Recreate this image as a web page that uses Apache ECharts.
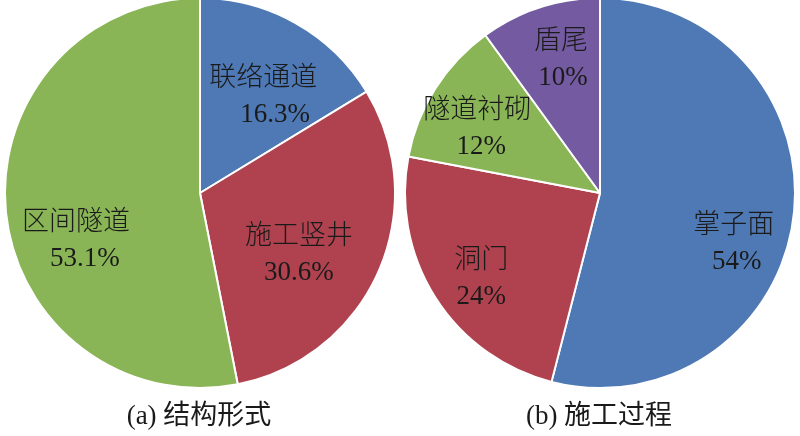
<!DOCTYPE html>
<html>
<head>
<meta charset="utf-8">
<script src="https://cdn.jsdelivr.net/npm/echarts@6/dist/echarts.min.js"></script>
<style>
html,body{margin:0;padding:0;background:#fff;}
#chart{width:800px;height:436px;}
</style>
</head>
<body>
<div id="chart"></div>
<script>
// Data
const categoriesA = ['联络通道', '施工竖井', '区间隧道'];
const valuesA = [16.3, 30.6, 53.1];
const categoriesB = ['掌子面', '洞门', '隧道衬砌', '盾尾'];
const valuesB = [54, 24, 12, 10];
const captionA = '(a) 结构形式';
const captionB = '(b) 施工过程';

// Styles
const colorsA = ['#4E79B5', '#B0424F', '#8AB556'];
const colorsB = ['#4E79B5', '#B0424F', '#8AB556', '#745AA1'];
const nudgeA = [[14, -8], [7, 21], [-24, 38]];
const nudgeB = [[34, 38], [-34, 32], [-38, -10], [-8, -38]];
const numIndentA = [24, 0, 18];
const numIndentB = [6, 0, 8, 4];
const FONT = "'Liberation Serif', 'Times New Roman', 'Noto Sans CJK SC', serif";
const TXT = '#1a1a1a';

function richFor(indent) {
  return {
    t: { fontSize: 27, lineHeight: 36, fontFamily: FONT, color: TXT, fontWeight: 300 },
    n: { fontSize: 27, lineHeight: 36, fontFamily: FONT, color: TXT, padding: [0, 0, 0, indent] }
  };
}

function buildData(cats, vals, colors, nudges, indents) {
  return cats.map((c, i) => ({
    name: c,
    value: vals[i],
    itemStyle: { color: colors[i] },
    label: { offset: nudges[i], rich: richFor(indents[i]) }
  }));
}

function pieSeries(cx, data) {
  return {
    type: 'pie',
    center: [cx, 193],
    radius: 195,
    startAngle: 90,
    clockwise: true,
    silent: true,
    animation: false,
    avoidLabelOverlap: false,
    itemStyle: { borderColor: '#ffffff', borderWidth: 2 },
    label: {
      show: true,
      position: 'inside',
      formatter: '{t|{b}}\n{n|{c}%}',
      color: TXT,
      fontSize: 27,
      fontFamily: FONT,
      align: 'center'
    },
    labelLine: { show: false },
    data: data
  };
}

const chart = echarts.init(document.getElementById('chart'), null, { renderer: 'canvas' });
chart.setOption({
  backgroundColor: '#ffffff',
  animation: false,
  series: [
    pieSeries(200, buildData(categoriesA, valuesA, colorsA, nudgeA, numIndentA)),
    pieSeries(600, buildData(categoriesB, valuesB, colorsB, nudgeB, numIndentB))
  ],
  graphic: [
    { type: 'text', x: 199, y: 417, style: { text: captionA, fill: TXT, font: '27px ' + FONT, textAlign: 'center', textVerticalAlign: 'middle' } },
    { type: 'text', x: 599, y: 417, style: { text: captionB, fill: TXT, font: '27px ' + FONT, textAlign: 'center', textVerticalAlign: 'middle' } }
  ]
});
</script>
</body>
</html>
